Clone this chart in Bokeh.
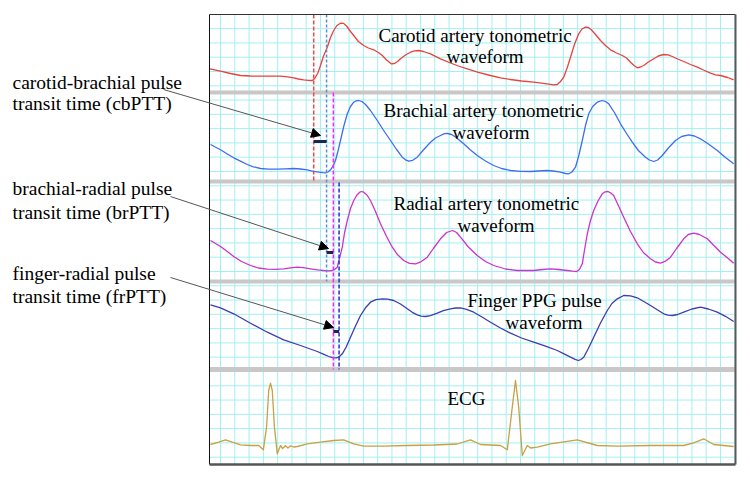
import numpy as np
from bokeh.plotting import figure
from bokeh.models import Range1d, Label, Arrow, NormalHead, Grid
from bokeh.embed import file_html
from bokeh.resources import INLINE

# ---- recorded waveforms: time in ms, amplitude in a.u. above each strip baseline ----
carotid_t = [-30, 0, 28, 56, 84, 112, 140, 168, 188, 205, 218, 233, 246, 257, 263, 272, 280, 288, 299, 308,
             317, 326, 336, 344, 353, 364, 373, 386, 401, 414, 429, 442, 453, 465, 478, 487, 496, 504, 518, 532,
             543, 555, 568, 588, 616, 644, 666, 691, 722, 756, 784, 812, 843, 877, 904, 933, 943, 952, 961, 971,
             980, 991, 1003, 1012, 1022, 1030, 1039, 1050, 1064, 1078, 1092, 1109, 1125, 1137, 1148, 1158, 1167, 1176,
             1185, 1198, 1213, 1226, 1241, 1253, 1265, 1280, 1297, 1316, 1335, 1352, 1372, 1386, 1400, 1420, 1437]
carotid_a = [23.7, 21.3, 19, 17, 16.5, 16.3, 16.3, 16.3, 15.7, 14.7, 13.5, 12.7, 12.2, 12, 13.7, 19, 27, 36, 45.3, 55,
             62, 67, 69.3, 69.2, 66.5, 61, 57, 51, 47, 44.5, 42.7, 40, 37, 32.5, 28.7, 29, 31, 33.7, 37.5, 40.3,
             41.7, 42, 41, 38.7, 33.7, 29.5, 26.5, 23.7, 20.2, 17, 14.7, 13, 11.5, 10.3, 9.2, 7.7, 8, 11, 15.3, 25,
             35.3, 48, 58.7, 63.5, 65.3, 65, 62.5, 58, 52, 47, 42.7, 39.5, 37, 34.5, 30.3, 27, 24.7, 25.5,
             27, 30.5, 33.7, 36.5, 38, 37.7, 36, 33.5, 31, 28, 25.3, 22.5, 19.3, 17.7, 17, 15, 12.7]

brachial_t = [-28, 0, 19, 37, 56, 75, 92, 112, 134, 159, 182, 205, 224, 243, 260, 275, 286, 294, 301, 308,
              315, 322, 329, 336, 345, 355, 364, 373, 380, 387, 396, 406, 420, 439, 456, 476, 493, 509, 518, 527,
              538, 551, 568, 588, 602, 616, 627, 636, 647, 658, 681, 700, 719, 742, 765, 787, 812, 840, 868, 890,
              915, 932, 952, 966, 975, 984, 994, 1004, 1013, 1022, 1031, 1042, 1055, 1069, 1078, 1087, 1103, 1120, 1137, 1153,
              1170, 1190, 1201, 1213, 1224, 1237, 1254, 1274, 1291, 1311, 1327, 1344, 1366, 1391, 1414, 1437]
brachial_a = [37, 31.7, 27.5, 23.7, 20.3, 17, 14.7, 13, 12.4, 12.3, 12.7, 13, 12.5, 11.7, 10.2, 9.3, 8.9, 8.7, 9.5, 11.7,
              15.5, 21, 30.5, 41, 55, 67.7, 75, 79.3, 80.7, 81, 80, 77, 71, 61, 51.5, 41, 32, 24.3, 21.7, 20.3,
              21.2, 24.3, 31.5, 39.3, 43.5, 46, 47.8, 48, 47, 44.5, 37.7, 31.5, 26, 20.5, 16, 13, 11, 10.2, 10, 10.5,
              11, 10.5, 9.3, 8, 7.7, 9.5, 14.3, 27, 41, 56, 67.7, 75, 79.3, 81, 80, 77.7, 69, 57.7, 48, 39.3,
              31, 24.3, 21.5, 20, 21.5, 26, 33.5, 41, 45, 46.7, 45.5, 42.7, 37.5, 31, 24, 17.7]

radial_t = [-28, 0, 19, 37, 59, 84, 106, 131, 154, 177, 196, 215, 232, 252, 272, 289, 302, 313, 319, 327,
            333, 341, 347, 355, 364, 373, 382, 390, 395, 401, 410, 420, 434, 448, 465, 481, 496, 513, 529, 546,
            561, 579, 596, 616, 633, 650, 661, 672, 694, 719, 742, 765, 798, 831, 877, 902, 924, 946, 971, 986,
            997, 1005, 1013, 1019, 1027, 1036, 1045, 1057, 1069, 1077, 1085, 1092, 1101, 1114, 1129, 1148, 1167, 1184, 1204, 1218,
            1232, 1246, 1260, 1277, 1297, 1310, 1325, 1341, 1363, 1380, 1400, 1420, 1437]
radial_a = [41, 35, 30, 25, 20, 16, 13.5, 12.3, 12.2, 12.7, 13.7, 14.3, 13.8, 12.7, 11.7, 11, 10.7, 11, 12, 14.3,
            23, 34.3, 48, 61, 73, 81, 86.5, 89.3, 90, 89.3, 86.5, 81, 70, 57.7, 45, 34.3, 26.7, 21, 18.2, 17.7,
            19.7, 24.3, 33, 42.7, 49, 51, 49, 44.3, 34.5, 26, 20, 16, 12.5, 11, 11, 12, 12.7, 12, 11, 10.3,
            10, 12, 17.7, 31, 47.7, 61, 71, 80.5, 87.7, 89.7, 90, 88.7, 86, 76, 64.3, 50, 37.7, 29, 22.7, 19.5,
            18.3, 20.3, 24.3, 33, 42.7, 47, 48.3, 47, 42.7, 36.5, 29.3, 23.5, 18.3]

finger_t = [-28, 0, 37, 84, 131, 177, 224, 271, 288, 303, 314, 325, 333, 341, 352, 364, 378, 392, 406, 420,
            435, 453, 468, 485, 504, 523, 537, 551, 562, 574, 588, 607, 624, 644, 658, 672, 689, 709, 731, 756,
            784, 812, 843, 877, 910, 943, 962, 980, 993, 1002, 1009, 1017, 1030, 1045, 1064, 1083, 1096, 1111, 1129, 1148,
            1167, 1184, 1204, 1224, 1241, 1253, 1265, 1280, 1297, 1320, 1344, 1366, 1391, 1414, 1437]
finger_a = [64.7, 61.7, 55.7, 46.3, 37.3, 29.7, 24, 18, 15.4, 13, 11.8, 11.7, 13, 15.7, 22.5, 32.3, 43.5, 54, 61.7, 67.3,
            69.8, 70.7, 70.3, 69, 65.5, 60.7, 57.2, 54.7, 53.4, 53, 53.8, 56.3, 58.8, 60.7, 61.5, 61.7, 60.2, 57.3, 52.7, 47.3,
            41.5, 36.3, 31.5, 27.3, 23.3, 19, 15.6, 12.3, 10.2, 9, 10, 12.3, 21, 32.3, 46.5, 59, 66, 70.7, 74, 73.7,
            71.7, 68.2, 64, 59.5, 55.7, 54.4, 54, 55, 57.3, 60.5, 62.3, 60.5, 57.3, 53.2, 48]

ecg_t = [-28, -5, 14, 33, 56, 84, 107, 120, 129, 135, 140, 145, 151, 159, 168, 174, 182, 189, 196, 205,
         215, 243, 280, 317, 345, 373, 401, 457, 523, 597, 663, 700, 728, 784, 803, 817, 826, 835, 845, 859,
         868, 887, 924, 999, 1055, 1111, 1204, 1297, 1325, 1353, 1381, 1437]
ecg_a = [20, 22.3, 24.7, 22.3, 19.7, 19, 19, 14.7, 37.3, 74, 81.3, 74, 37.3, 10.7, 19, 16, 18.7, 16.5, 18.7, 17.5,
         18, 20.7, 22.3, 24, 24.7, 20.7, 18.3, 18.3, 19, 19.5, 20.5, 24.7, 20, 19, 14.7, 57.3, 84, 57.3, 9, 19,
         16.5, 17.3, 20.7, 24.7, 19, 18.3, 19, 19, 21.7, 25.7, 20, 18]

# pulse-foot times (ms) used for the transit-time markers
foot_names = ["carotid", "brachial", "radial", "finger"]
foot_ms = [261, 297, 316, 332]

# ---- page layout (px) ----
W, H = 750, 479
PX_PER_MS = 1 / 2.8
T0_PX = 220            # page x of t = 0
PANEL_L, PANEL_R, PANEL_T, PANEL_B = 209, 735, 14, 464
strip_base = {"carotid": 92, "brachial": 181, "radial": 281, "finger": 369, "ecg": 464}

p = figure(width=W, height=H, output_backend="svg", toolbar_location=None,
           x_range=Range1d(-T0_PX / PX_PER_MS, (W - T0_PX) / PX_PER_MS),
           y_range=Range1d(H, 0), x_axis_location=None, y_axis_location=None,
           min_border=0, outline_line_color=None,
           background_fill_color="white", border_fill_color="white")
p.center = [r for r in p.center if not isinstance(r, Grid)]
p.extra_x_ranges = {"page": Range1d(0, W)}
p.extra_y_ranges = {k: Range1d(b - H, b) for k, b in strip_base.items()}

# time grid (40 ms squares) and amplitude grid of the same pitch
grid_col = "#a4eff2"
gx = np.arange(0, 1441, 40)
p.segment(x0=gx, x1=gx, y0=PANEL_T, y1=PANEL_B, line_color=grid_col, line_width=1)
gy = 456.7 - 40 * PX_PER_MS * np.arange(0, 31)
p.segment(x0=PANEL_L, x1=PANEL_R, y0=gy, y1=gy, x_range_name="page", line_color=grid_col, line_width=1)

# strip separators
for y, h in [(92, 4), (181, 4), (281, 4), (369, 5)]:
    p.quad(left=PANEL_L, right=PANEL_R, top=y - h / 2, bottom=y + h / 2, x_range_name="page",
           fill_color="#c8c8c8", line_color=None)

# waveforms
series = [("carotid", carotid_t, carotid_a, "#e8423f"),
          ("brachial", brachial_t, brachial_a, "#3d6ef2"),
          ("radial", radial_t, radial_a, "#cc33cc"),
          ("finger", finger_t, finger_a, "#3d3db0"),
          ("ecg", ecg_t, ecg_a, "#c9a043")]
for name, t, a, col in series:
    p.line(t, a, y_range_name=name, line_color=col, line_width=1.3, line_join="round")

# pulse-foot markers, each spanning its own strip and the neighbouring ones
marker_style = {"carotid": ("#f04848", "4 2", 14, 182),
                "brachial": ("#5b8fd0", "3 2", 14, 281),
                "radial": ("#ff22ff", "4 2", 92, 369),
                "finger": ("#2a2ad8", "4 2", 182, 369)}
for name, t in zip(foot_names, foot_ms):
    col, dash, y0, y1 = marker_style[name]
    p.segment(x0=t, x1=t, y0=y0, y1=y1, line_color=col, line_dash=dash, line_width=1.5)

# transit-time bars
bar_y = [141, 252, 331]
p.segment(x0=foot_ms[:-1], x1=foot_ms[1:], y0=bar_y, y1=bar_y, line_color="#1b2550", line_width=3)

# panel border
p.segment(x0=[PANEL_L, PANEL_L, PANEL_R, PANEL_L], x1=[PANEL_L, PANEL_R, PANEL_R, PANEL_R],
          y0=[PANEL_T, PANEL_T, PANEL_T, PANEL_B], y1=[PANEL_B, PANEL_T, PANEL_B, PANEL_B],
          x_range_name="page", line_color=["#111111", "#333333", "#5a5a5a", "#555555"],
          line_width=[1, 1, 2, 2.5])

FONT = "Liberation Serif"

def text(x, y, s, size="19px"):
    p.add_layout(Label(x=x, y=y, text=s, x_range_name="page", text_font=FONT,
                       text_font_size=size, text_color="black",
                       text_baseline="alphabetic", text_align="left"))

# strip titles
text(378, 34.5, "Carotid artery tonometric")
text(446, 55.7, "waveform")
text(383, 110, "Brachial artery tonometric")
text(452, 131.7, "waveform")
text(393, 203.3, "Radial artery tonometric")
text(457, 225, "waveform")
text(467, 300, "Finger PPG pulse")
text(505, 321.7, "waveform")
text(447, 398.3, "ECG")

# transit-time annotations
for y, s in [(81.7, "carotid-brachial pulse"), (103.3, "transit time (cbPTT)"),
             (188.3, "brachial-radial pulse"), (211.7, "transit time (brPTT)"),
             (273.3, "finger-radial pulse"), (296, "transit time (frPTT)")]:
    text(12, y, s, size="19.5px")

for xs, ys, xe, ye in [(163, 89, 320, 135), (170, 196, 328, 248), (170, 277, 333, 327)]:
    p.add_layout(Arrow(x_start=xs, y_start=ys, x_end=xe, y_end=ye, x_range_name="page",
                       line_color="#555555", line_width=1,
                       end=NormalHead(size=9, fill_color="black", line_color="black", line_width=1)))

open("out.html", "w").write(file_html(p, INLINE))
